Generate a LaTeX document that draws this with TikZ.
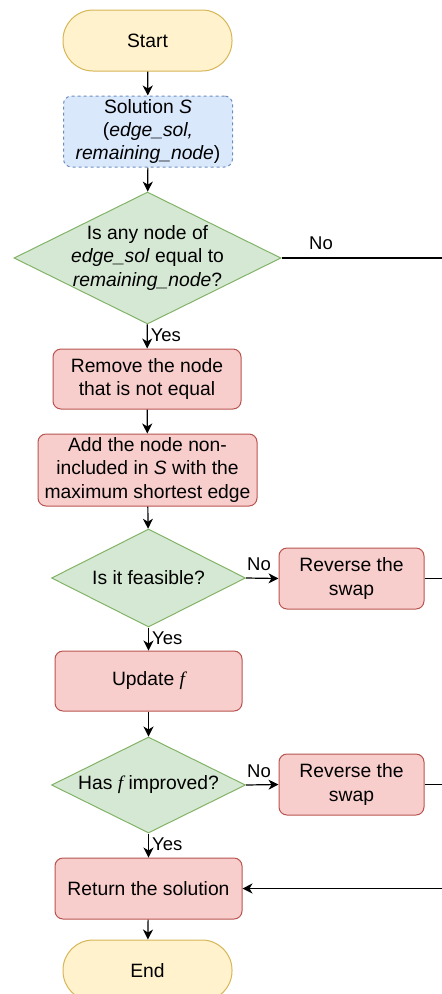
\documentclass[tikz,border=0pt]{standalone}
\usepackage{fontspec}
\setmainfont{Liberation Sans}
\newfontfamily\mathitfont{Liberation Serif}
\usetikzlibrary{shapes.geometric,arrows.meta}

\definecolor{termfill}{HTML}{FFF2CC}
\definecolor{termline}{HTML}{D6B656}
\definecolor{datafill}{HTML}{DAE8FC}
\definecolor{dataline}{HTML}{6C8EBF}
\definecolor{decfill}{HTML}{D5E8D4}
\definecolor{decline}{HTML}{82B366}
\definecolor{procfill}{HTML}{F8CECC}
\definecolor{procline}{HTML}{B85450}

\newcommand{\fvar}{{\mathitfont\itshape f}}

\begin{document}
\begin{tikzpicture}[x=1pt,y=-1pt,
  every node/.style={font=\fontsize{19.3}{23.2}\selectfont, align=center, inner sep=0pt},
  term/.style={draw=termline, fill=termfill, line width=1pt, rounded corners=30pt,
    minimum width=169pt, minimum height=61pt},
  datab/.style={draw=dataline, fill=datafill, line width=1pt, dashed, rounded corners=8pt,
    minimum width=169pt, minimum height=71pt},
  proc/.style={draw=procline, fill=procfill, line width=1pt, rounded corners=8pt},
  dec/.style={draw=decline, fill=decfill, line width=1pt, diamond, inner sep=0pt},
  flow/.style={draw, line width=1.2pt, -{Stealth[length=10pt,width=10pt,inset=3pt]}},
  plain/.style={draw, line width=1.2pt},
  lbl/.style={font=\fontsize{18.5}{22}\selectfont}
]
\useasboundingbox (0,0) rectangle (442,994);
\clip (0,0) rectangle (442,994);

% nodes
\node[term] (start) at (147.5,40.5) {Start};
\node[datab] (sol) at (148,131.5) {Solution \textit{S}\\(\textit{edge\_sol,}\\\textit{remaining\_node})};
\node[dec, minimum width=267pt, minimum height=132pt] (q1) at (147.5,258) {};
\node at (q1) {Is any node of\\\textit{edge\_sol} equal to\\\textit{remaining\_node}?};
\node[proc, minimum width=188pt, minimum height=60pt] (rem) at (147,379) {Remove the node\\that is not equal};
\node[proc, minimum width=219pt, minimum height=72pt] (add) at (147.5,470) {Add the node non-\\included in \textit{S} with the\\maximum shortest edge};
\node[dec, minimum width=194pt, minimum height=98pt] (q2) at (148.5,578) {};
\node at (q2) {Is it feasible?};
\node[proc, minimum width=145pt, minimum height=61pt] (rev1) at (351.5,578.5) {Reverse the\\swap};
\node[proc, minimum width=187pt, minimum height=60pt] (upd) at (148.5,681) {Update \fvar};
\node[dec, minimum width=194pt, minimum height=96pt] (q3) at (148.5,785) {};
\node at (q3) {Has \fvar\ improved?};
\node[proc, minimum width=145pt, minimum height=61pt] (rev2) at (351.5,784.5) {Reverse the\\swap};
\node[proc, minimum width=187pt, minimum height=61pt] (ret) at (148.5,888.5) {Return the solution};
\node[term] (end) at (147.5,970.5) {End};

% free ends towards the right-hand return line
\coordinate (e1) at (460,258);
\coordinate (e2) at (460,578.5);
\coordinate (e3) at (460,784.5);
\coordinate (e4) at (460,888.5);

% connectors
\draw[flow] (start) -- (sol);
\draw[flow] (sol) -- (q1);
\draw[flow] (q1) -- node[lbl, anchor=west, xshift=3pt, pos=0.45] {Yes} (rem);
\draw[flow] (rem) -- (add);
\draw[flow] (add) -- (q2);
\draw[flow] (q2) -- node[lbl, anchor=west, xshift=3pt, pos=0.45] {Yes} (upd);
\draw[flow] (upd) -- (q3);
\draw[flow] (q3) -- node[lbl, anchor=west, xshift=3pt, pos=0.45] {Yes} (ret);
\draw[flow] (ret) -- (end);

\draw[flow] (q2.east) -- node[lbl, above, pos=0.4, yshift=7pt] {No} (rev1.west);
\draw[flow] (q3.east) -- node[lbl, above, pos=0.4, yshift=7pt] {No} (rev2.west);
\draw[plain] (q1.east) -- (e1);
\node[lbl] (no1) at (321,243) {No};
\draw[plain] (rev1.east) -- (e2);
\draw[plain] (rev2.east) -- (e3);
\draw[flow] (e4) -- (ret.east);
\end{tikzpicture}
\end{document}
